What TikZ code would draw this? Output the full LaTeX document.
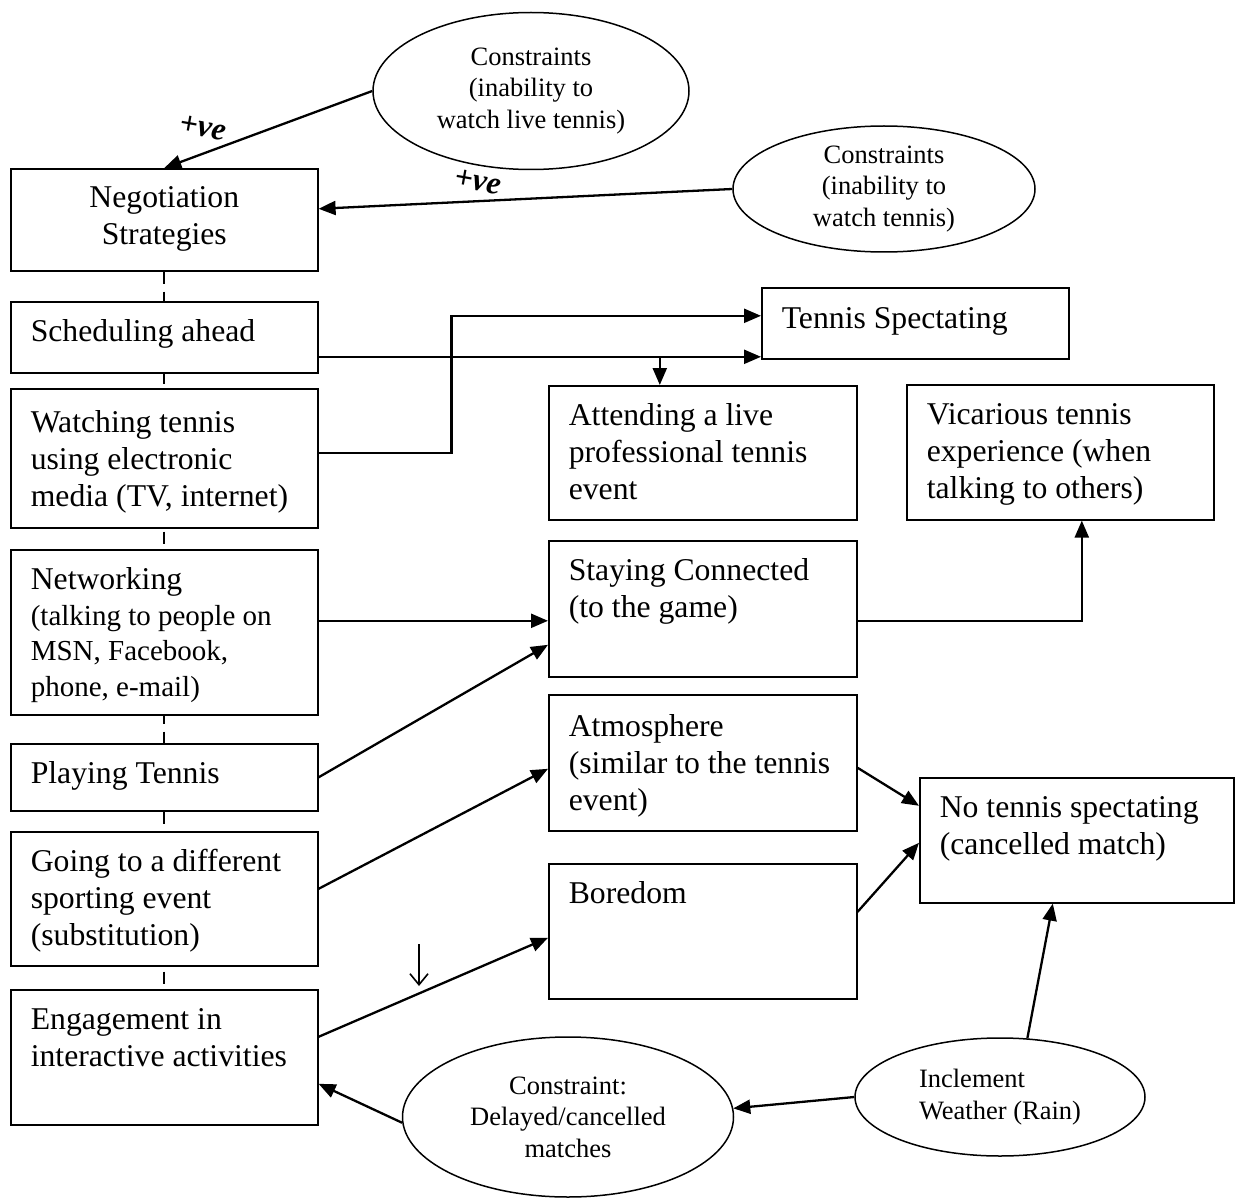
\documentclass[tikz,border=0pt]{standalone}
\usepackage{fontspec}
\setmainfont{Liberation Serif}
\usetikzlibrary{shapes.geometric,arrows.meta,backgrounds}

\newcommand\boxfont{\fontsize{31.7}{37}\selectfont}
\newcommand\smallboxfont{\fontsize{29}{35.5}\selectfont}
\newcommand\ellfont{\fontsize{26.5}{31.5}\selectfont}
\newcommand\bx[4][14pt]{\parbox[c][#3][t]{#2}{\boxfont\raggedright\leftskip=20pt\vspace*{#1}\strut #4}}

\begin{document}
\begin{tikzpicture}[x=1pt,y=-1pt,
  box/.style={draw, line width=1.6pt, fill=white, inner sep=0pt, anchor=north west},
  ell/.style={draw, ellipse, line width=1.5pt, fill=white, inner sep=0pt, align=center, font=\ellfont},
  arr/.style={line width=2.3pt, -{Triangle[length=17pt,width=14pt]}},
  posv/.style={font=\fontsize{32}{32}\selectfont\bfseries\itshape, rotate=-10, inner sep=0pt},
  dashline/.style={line width=1.8pt, dash pattern=on 12pt off 8pt},
  thinarrow/.style={line width=1.6pt, -{Straight Barb[length=11pt,width=18pt]}}]

\useasboundingbox (0,0) rectangle (1235,1201);

% left column
\node[box] (neg) at (10,168) {\parbox[c][102pt][t]{307pt}{\boxfont\centering\vspace*{13pt}\strut Negotiation\\Strategies}};
\node[box] (sched) at (10,301) {\bx{307pt}{71pt}{Scheduling ahead}};
\node[box] (watch) at (10,388) {\bx[18pt]{307pt}{139pt}{Watching tennis\\using electronic\\media (TV, internet)}};
\node[box] (net) at (10,549) {\parbox[c][165pt][t]{307pt}{\boxfont\raggedright\leftskip=20pt\vspace*{14pt}\strut Networking\par\smallboxfont(talking to people on\\MSN, Facebook,\\phone, e-mail)}};
\node[box] (play) at (10,743) {\bx{307pt}{67pt}{Playing Tennis}};
\node[box] (going) at (10,831) {\bx{307pt}{134pt}{Going to a different\\sporting event\\(substitution)}};
\node[box] (eng) at (10,989) {\bx{307pt}{135pt}{Engagement in\\interactive activities}};

% middle / right
\node[box] (spec) at (761,287) {\bx[15pt]{307pt}{71pt}{Tennis Spectating}};
\node[box] (att) at (548,385) {\bx{308pt}{134pt}{Attending a live\\professional tennis\\event}};
\node[box] (vic) at (906,384) {\bx{307pt}{135pt}{Vicarious tennis\\experience (when\\talking to others)}};
\node[box] (stay) at (548,540) {\bx{308pt}{136pt}{Staying Connected\\(to the game)}};
\node[box] (atm) at (548,694) {\bx[16pt]{308pt}{136pt}{Atmosphere\\(similar to the tennis\\event)}};
\node[box] (bored) at (548,863) {\bx{308pt}{135pt}{Boredom}};
\node[box] (nots) at (919,777) {\bx{314pt}{125pt}{No tennis spectating\\(cancelled match)}};

% ellipses
\node[ell, minimum width=316pt, minimum height=157pt] (e1) at (531,91) {Constraints\\(inability to\\watch live tennis)};
\node[ell, minimum width=302pt, minimum height=126pt] (e2) at (884,189) {Constraints\\(inability to\\watch tennis)};
\node[ell, minimum width=331pt, minimum height=160pt] (e3) at (568,1117) {Constraint:\\Delayed/cancelled\\matches};
\node[ell, minimum width=290pt, minimum height=118pt, align=left] (e4) at (1000,1097) {Inclement\\Weather (Rain)};

% dashed spine
\begin{scope}[on background layer]
\draw[dashline] (neg.south) -- (eng.north);
\end{scope}

% connectors
\draw[arr] (e1.west) -- (neg.north);
\draw[arr] (e2.west) -- ([yshift=11pt]neg.east);
\node[posv] (pv1) at (203,128) {+ve};
\node[posv] (pv2) at (478,182) {+ve};

\coordinate (s1) at ([yshift=-19.5pt]sched.east);
\draw[arr] (s1) -- (s1 -| spec.west);
\coordinate (attin) at ([xshift=-43pt]att.north);
\draw[arr] (s1 -| attin) -- (attin);
\draw[arr] ([yshift=5.5pt]watch.east) -- ++(133,0) |- ([yshift=7.5pt]spec.west);

\coordinate (n1) at ([yshift=11.5pt]net.east);
\draw[arr] (n1) -- (n1 -| stay.west);
\draw[arr] (play.east) -- ([yshift=-36pt]stay.west);
\draw[arr] (n1 -| stay.east) -| ([xshift=21.5pt]vic.south);

\draw[arr] ([yshift=10pt]going.east) -- ([yshift=-6pt]atm.west);
\draw[arr] ([yshift=-5pt]atm.east) -- ([yshift=34.5pt]nots.west);
\draw[arr] ([yshift=19.5pt]bored.east) -- ([yshift=-2.5pt]nots.west);
\draw[arr] ([yshift=20.5pt]eng.east) -- ([yshift=-6.5pt]bored.west);

\coordinate (dtop) at (419,944);
\coordinate (dbot) at (419,986);
\draw[thinarrow] (dtop) -- (dbot);

\draw[arr] (e4.65) -- ([xshift=-24pt]nots.south);
\draw[arr] (e4.west) -- (e3.3);
\draw[arr] (e3.182) -- ([yshift=-26.5pt]eng.east);
\end{tikzpicture}
\end{document}
